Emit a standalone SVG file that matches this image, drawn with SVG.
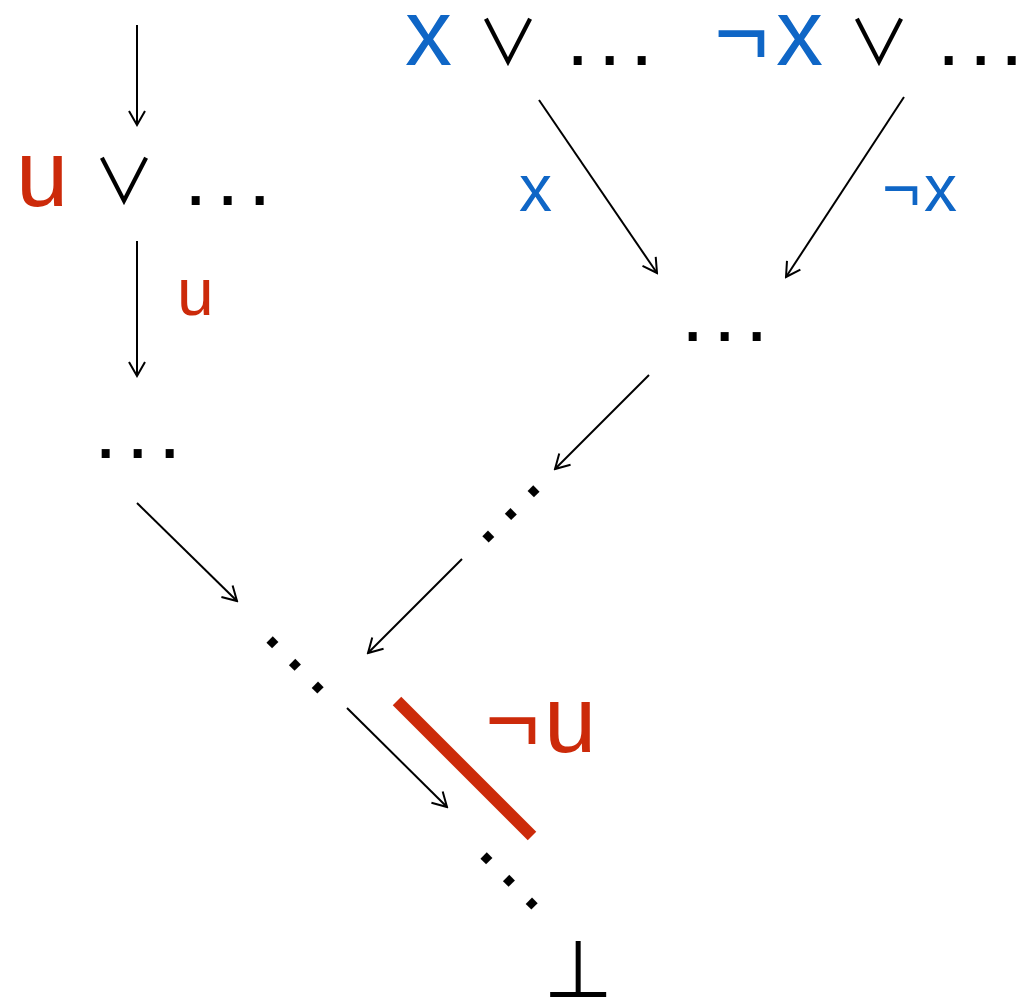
<svg xmlns="http://www.w3.org/2000/svg" width="1018" height="998" viewBox="0 0 1018 998">
<defs>
<style>
.t{font-family:"Liberation Sans",Arial,sans-serif;font-size:94px;fill:#000}
.d{font-family:"Liberation Sans",Arial,sans-serif;font-size:84px;fill:#000}
.s{font-family:"Liberation Sans",Arial,sans-serif;font-size:66px}
.op{font-family:"Noto Sans CJK JP","DejaVu Sans",sans-serif;font-size:62px;fill:#000}
.red{fill:#cc2a0a}
.blue{fill:#0f66c6}
.c{fill:none;stroke:#000;stroke-width:2;marker-end:url(#ah)}
</style>
<marker id="ah" viewBox="-16 -10 18 20" refX="0" refY="0" markerWidth="18" markerHeight="20" markerUnits="userSpaceOnUse" orient="auto">
<path d="M-14,-8 L0,0 L-14,8" fill="none" stroke="#000" stroke-width="2"/>
</marker>
</defs>
<rect width="1018" height="998" fill="#fff"/>
<g id="connectors">
<line class="c" x1="137" y1="25" x2="137" y2="125"/>
<line class="c" x1="137" y1="241" x2="137" y2="376"/>
<line class="c" x1="539" y1="100" x2="657" y2="273"/>
<line class="c" x1="904" y1="97" x2="786" y2="277"/>
<line class="c" x1="649" y1="375" x2="555" y2="469"/>
<line class="c" x1="137" y1="503" x2="237" y2="601"/>
<line class="c" x1="462" y1="559" x2="368" y2="653"/>
<line class="c" x1="347" y1="708" x2="447" y2="807"/>
</g>
<g id="clause-u">
<text class="t red" x="16" y="206">u</text>
<text class="op" x="93" y="204">∨</text>
<text class="d" x="184 216 248" y="205">...</text>
</g>
<g id="clause-x">
<text class="t blue" x="405" y="65">x</text>
<text class="op" x="477" y="65">∨</text>
<text class="d" x="566 598 630" y="65">...</text>
</g>
<g id="clause-notx">
<text class="t blue" y="65"><tspan x="714">¬</tspan><tspan x="776">x</tspan></text>
<text class="op" x="848" y="65">∨</text>
<text class="d" x="937 969 1000" y="65">...</text>
</g>
<g id="label-u"><text class="s red" x="177" y="315">u</text></g>
<g id="label-x"><text class="s blue" x="519" y="211">x</text></g>
<g id="label-notx"><text class="s blue" y="211"><tspan x="882">¬</tspan><tspan x="924">x</tspan></text></g>
<g id="node-dots-left"><text class="d" x="94 126 158" y="458">...</text></g>
<g id="node-dots-mid"><text class="d" x="681 713 745" y="341">...</text></g>
<g id="node-dots-diag1"><text class="d" transform="translate(511,514) rotate(-45)" x="-43.7 -11.7 20.3" y="4.4">...</text></g>
<g id="node-dots-diag2"><text class="d" transform="translate(295,665) rotate(45)" x="-43.7 -11.7 20.3" y="4.4">...</text></g>
<g id="node-dots-diag3"><text class="d" transform="translate(509,881) rotate(45)" x="-43.7 -11.7 20.3" y="4.4">...</text></g>
<g id="cut">
<line x1="397" y1="701" x2="532" y2="836" stroke="#cc2a0a" stroke-width="12"/>
<text class="t red" y="752"><tspan x="485">¬</tspan><tspan x="544">u</tspan></text>
</g>
<g id="bottom"><text style="font-family:'DejaVu Sans',sans-serif;font-size:80px" x="578" y="997" text-anchor="middle">⊥</text></g>
</svg>
